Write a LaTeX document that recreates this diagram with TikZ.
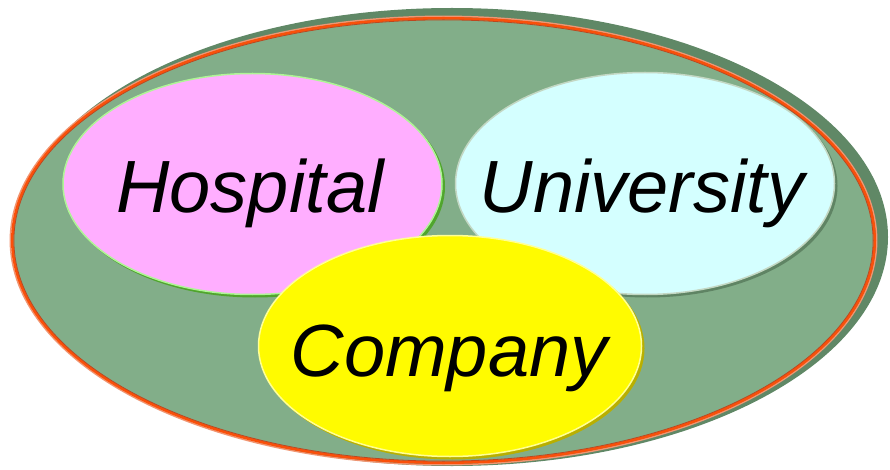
\documentclass[tikz,border=0pt]{standalone}
\usepackage{fontspec}
\setmainfont{Liberation Sans}
\definecolor{outerfill}{RGB}{130,174,137}
\definecolor{outershadow}{RGB}{96,136,102}
\definecolor{orangeline}{RGB}{250,80,10}
\definecolor{darkorange}{RGB}{190,70,30}
\definecolor{paleorange}{RGB}{240,150,115}
\definecolor{hospfill}{RGB}{255,174,255}
\definecolor{hosplight}{RGB}{175,245,150}
\definecolor{hospdark}{RGB}{80,165,45}
\definecolor{unifill}{RGB}{212,255,255}
\definecolor{unilight}{RGB}{195,215,195}
\definecolor{unidark}{RGB}{95,132,100}
\definecolor{compfill}{RGB}{255,251,0}
\definecolor{complight}{RGB}{255,255,150}
\definecolor{compdark}{RGB}{185,175,0}
\tikzset{
  label text/.style={font=\fontsize{74}{80}\selectfont\itshape, text=black, anchor=base, inner sep=0pt},
}
\begin{document}
\begin{tikzpicture}[x=1pt,y=1pt]
\useasboundingbox (0,0) rectangle (890,469);
% outer ellipse
\fill[outershadow] (452,232) ellipse [x radius=436, y radius=229];
\fill[outerfill] (443.5,228.5) ellipse [x radius=431.5, y radius=222.5];
\draw[paleorange, line width=1.5] (443.5,228.5) ellipse [x radius=433.2, y radius=224.2];
\draw[orangeline, line width=2.6] (443.5,228.5) ellipse [x radius=431.2, y radius=222.2];
\draw[darkorange, line width=0.8] (443.5,228.5) ellipse [x radius=429.6, y radius=220.6];
% hospital
\fill[hospdark] (255,282.5) ellipse [x radius=190, y radius=111];
\filldraw[fill=hospfill, draw=hosplight, line width=1.5] (252.5,285) ellipse [x radius=189.5, y radius=110.5];
% university
\fill[unidark] (647.5,283) ellipse [x radius=190, y radius=111.5];
\filldraw[fill=unifill, draw=unilight, line width=1.5] (645,285.5) ellipse [x radius=189.5, y radius=111];
% company
\fill[compdark] (452.5,120.5) ellipse [x radius=192, y radius=111];
\filldraw[fill=compfill, draw=complight, line width=1.5] (450,123) ellipse [x radius=191.5, y radius=110.5];
% texts
\node[label text] (hospital) at (250,256) {Hospital};
\node[label text] (university) at (642,256) {University};
\node[label text] (company) at (449,93) {Company};
\end{tikzpicture}
\end{document}
